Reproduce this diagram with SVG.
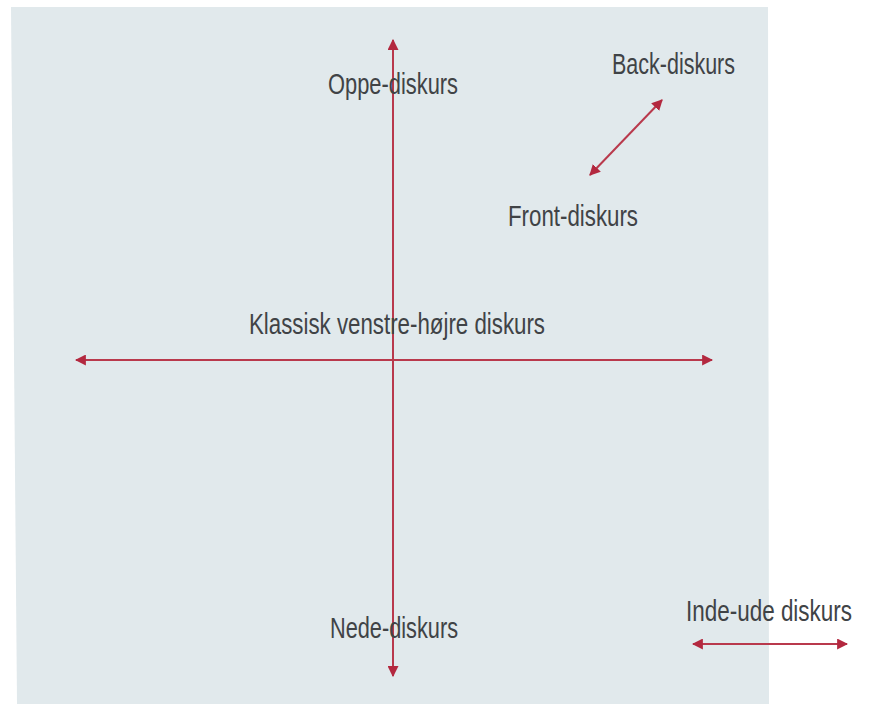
<svg xmlns="http://www.w3.org/2000/svg" width="869" height="704" viewBox="0 0 869 704">
  <defs>
    <marker id="ah" viewBox="0 0 10 10" refX="9" refY="5" markerWidth="5.5" markerHeight="5.5" orient="auto-start-reverse" markerUnits="strokeWidth">
      <path d="M0,0 L10,5 L0,10 z" fill="#b3283f"/>
    </marker>
    <style>
      .lbl { font-family: "Liberation Sans", Arial, sans-serif; font-size: 29px; fill: #404346; }
      .ax { stroke: #b9394c; stroke-width: 2; fill: none; marker-start: url(#ah); marker-end: url(#ah); }
    </style>
  </defs>
  <rect x="0" y="0" width="869" height="704" fill="#ffffff"/>
  <polygon points="11,7 768,7 769,704 17,704" fill="#e1e9ec"/>

  <g id="connectors">
    <line class="ax" x1="393" y1="40" x2="393" y2="676"/>
    <line class="ax" x1="76" y1="360" x2="712" y2="360"/>
    <line class="ax" x1="590" y1="175" x2="662" y2="100"/>
    <line class="ax" x1="693" y1="644" x2="847" y2="644"/>
  </g>

  <g id="oppe"><text class="lbl" x="328" y="94" textLength="130" lengthAdjust="spacingAndGlyphs">Oppe-diskurs</text></g>
  <g id="back"><text class="lbl" x="612" y="74" textLength="123" lengthAdjust="spacingAndGlyphs">Back-diskurs</text></g>
  <g id="front"><text class="lbl" x="508" y="226" textLength="130" lengthAdjust="spacingAndGlyphs">Front-diskurs</text></g>
  <g id="klassisk"><text class="lbl" x="249" y="334" textLength="296" lengthAdjust="spacingAndGlyphs">Klassisk venstre-højre diskurs</text></g>
  <g id="nede"><text class="lbl" x="330" y="638" textLength="128" lengthAdjust="spacingAndGlyphs">Nede-diskurs</text></g>
  <g id="indeude"><text class="lbl" x="686" y="621" textLength="166" lengthAdjust="spacingAndGlyphs">Inde-ude diskurs</text></g>
</svg>
